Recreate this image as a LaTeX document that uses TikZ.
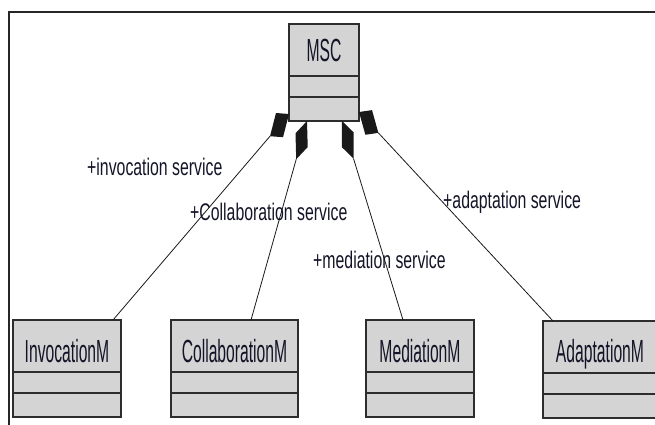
\documentclass[tikz,border=0pt]{standalone}
\usepackage{fontspec}
\setmainfont{Liberation Sans}
\newfontfamily\titlefont[FakeStretch=0.49]{Liberation Sans}
\newfontfamily\rolefont[FakeStretch=0.66]{Liberation Sans}
\usetikzlibrary{calc}

\definecolor{classfill}{RGB}{212,212,212}
\definecolor{classedge}{RGB}{45,45,45}
\definecolor{inktext}{RGB}{20,20,40}

\tikzset{
  classbox/.style={draw=classedge, line width=1.3pt, fill=classfill,
    rectangle, minimum height=97pt, inner sep=0pt, outer sep=0pt},
  compline/.style={draw=classedge, line width=1.3pt},
  classtitle/.style={anchor=base, inner sep=0pt, text=inktext,
    font=\titlefont\fontsize{32}{32}\selectfont},
  rolelabel/.style={anchor=base west, inner sep=0pt, text=inktext,
    font=\rolefont\fontsize{24}{24}\selectfont},
  assoc/.style={draw=black!90, line width=0.8pt},
  diamondink/.style={fill=black!90},
  frameline/.style={draw=black!85, line width=1.8pt},
}

% UML class with a title compartment and two empty compartments
% #1 name, #2 left, #3 top, #4 width, #5 title baseline depth, #6 title
\newcommand{\umlclass}[6]{%
  \node[classbox, minimum width=#4pt, anchor=north west] (#1) at (#2,#3) {};
  \draw[compline] ([yshift=-52pt]#1.north west) -- ([yshift=-52pt]#1.north east);
  \draw[compline] ([yshift=-73pt]#1.north west) -- ([yshift=-73pt]#1.north east);
  \node[classtitle] (#1-title) at ([yshift=-#5pt]#1.north) {#6};
}

% filled aggregation diamond: #1 tip, #2 direction, #3 name of its far end
\newcommand{\aggdiamond}[3]{%
  \begin{scope}[shift={#1}, yscale=2, rotate=#2]
    \fill[diamondink] (0,0) -- (11,7) -- (22,0) -- (11,-7) -- cycle;
    \coordinate (#3) at (22,0);
  \end{scope}}

\begin{document}
\begin{tikzpicture}[x=1pt, y=-1pt]
  \useasboundingbox (0,0) rectangle (655,424);
  \clip (0,0) rectangle (655,424);

  % diagram frame
  \draw[frameline] (9,430) -- (9,12) -- (660,12);

  % classes
  \umlclass{msc}{289}{24}{70}{37}{MSC}
  \umlclass{inv}{13}{320}{108}{42}{InvocationM}
  \umlclass{col}{171}{320}{127}{42}{CollaborationM}
  \umlclass{med}{366}{320}{108}{42}{MediationM}
  \umlclass{ada}{543}{321}{114}{41}{AdaptationM}

  % composition ends at MSC
  \aggdiamond{([yshift=7pt]msc.south west)}{210.3}{d1}
  \aggdiamond{([xshift=18pt]msc.south west)}{240.6}{d2}
  \aggdiamond{([xshift=53pt]msc.south west)}{301.5}{d3}
  \aggdiamond{([yshift=9pt]msc.south east)}{-28.3}{d4}

  % associations
  \draw[assoc] (d1) -- ([xshift=46pt]inv.north);
  \draw[assoc] (d2) -- ([xshift=16.5pt]col.north);
  \draw[assoc] (d3) -- ([xshift=-17pt]med.north);
  \draw[assoc] (d4) -- ([xshift=-47pt]ada.north);

  % role names
  \node[rolelabel] (r1) at (87,175) {+invocation service};
  \node[rolelabel] (r2) at (190,220) {+Collaboration service};
  \node[rolelabel] (r3) at (313,268) {+mediation service};
  \node[rolelabel] (r4) at (443,208) {+adaptation service};
\end{tikzpicture}
\end{document}
